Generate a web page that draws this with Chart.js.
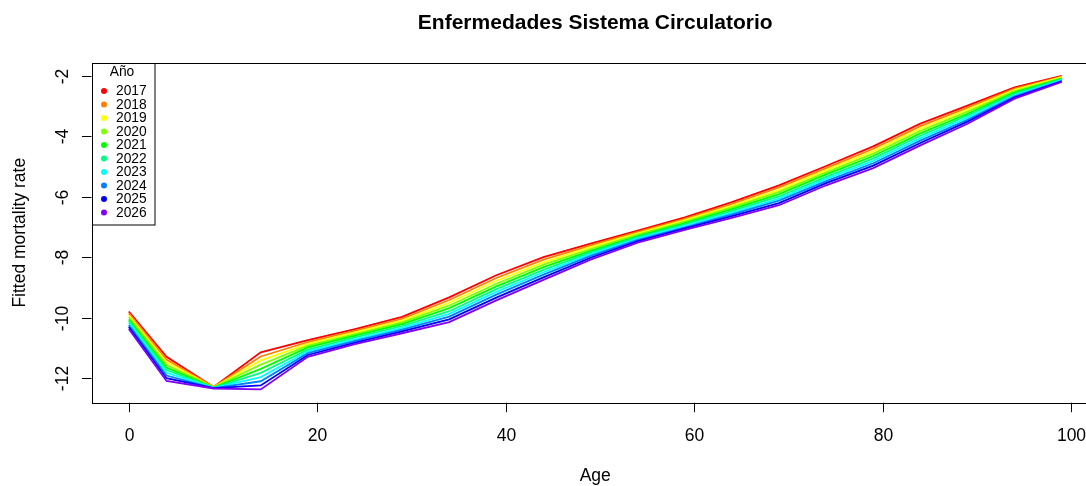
<!DOCTYPE html>
<html>
<head>
<meta charset="utf-8">
<title>Enfermedades Sistema Circulatorio</title>
<script src="https://cdn.jsdelivr.net/npm/chart.js@4"></script>
<style>
  html, body { margin: 0; padding: 0; background: #fff; overflow: hidden; }
  canvas { display: block; }
</style>
</head>
<body>
<canvas id="chart" width="1100" height="486"></canvas>
<script>
// Ages (x axis) and fitted log mortality rates, one array per year
const ages = [0, 4, 9, 14, 19, 24, 29, 34, 39, 44, 49, 54, 59, 64, 69, 74, 79, 84, 89, 94, 99];
const years = ['2017', '2018', '2019', '2020', '2021', '2022', '2023', '2024', '2025', '2026'];

const r2017 = [-9.80, -11.30, -12.30, -11.15, -10.75, -10.38, -9.98, -9.33, -8.60, -8.00, -7.55, -7.12, -6.68, -6.18, -5.62, -4.98, -4.33, -3.58, -2.98, -2.38, -2.00];
const r2018 = [-9.86, -11.39, -12.30, -11.29, -10.81, -10.44, -10.04, -9.42, -8.69, -8.08, -7.61, -7.16, -6.73, -6.24, -5.69, -5.05, -4.41, -3.66, -3.05, -2.42, -2.02];
const r2019 = [-9.93, -11.48, -12.31, -11.42, -10.87, -10.49, -10.10, -9.51, -8.78, -8.17, -7.67, -7.21, -6.77, -6.30, -5.77, -5.12, -4.49, -3.74, -3.11, -2.46, -2.04];
const r2020 = [-9.99, -11.57, -12.31, -11.56, -10.93, -10.55, -10.16, -9.60, -8.88, -8.25, -7.73, -7.25, -6.82, -6.35, -5.84, -5.19, -4.57, -3.82, -3.18, -2.50, -2.07];
const r2021 = [-10.06, -11.66, -12.32, -11.70, -10.99, -10.60, -10.22, -9.69, -8.97, -8.33, -7.79, -7.30, -6.87, -6.41, -5.91, -5.26, -4.65, -3.90, -3.25, -2.54, -2.09];
const r2022 = [-10.12, -11.74, -12.33, -11.83, -11.06, -10.66, -10.28, -9.79, -9.06, -8.42, -7.84, -7.34, -6.91, -6.47, -5.99, -5.34, -4.73, -3.98, -3.31, -2.59, -2.11];
const r2023 = [-10.18, -11.83, -12.33, -11.97, -11.12, -10.72, -10.34, -9.88, -9.15, -8.50, -7.90, -7.38, -6.96, -6.53, -6.06, -5.41, -4.81, -4.06, -3.38, -2.63, -2.13];
const r2024 = [-10.25, -11.92, -12.34, -12.11, -11.18, -10.77, -10.40, -9.97, -9.24, -8.58, -7.96, -7.43, -7.01, -6.58, -6.13, -5.48, -4.89, -4.14, -3.45, -2.67, -2.16];
const r2025 = [-10.31, -12.01, -12.34, -12.25, -11.24, -10.83, -10.46, -10.06, -9.34, -8.67, -8.02, -7.47, -7.05, -6.64, -6.21, -5.55, -4.97, -4.22, -3.51, -2.71, -2.18];
const r2026 = [-10.38, -12.10, -12.35, -12.38, -11.30, -10.88, -10.52, -10.15, -9.43, -8.75, -8.08, -7.52, -7.10, -6.70, -6.28, -5.62, -5.05, -4.30, -3.58, -2.75, -2.20];

const rates = [r2017, r2018, r2019, r2020, r2021, r2022, r2023, r2024, r2025, r2026];

// rainbow(10, end = 0.75) as in R
const colors = ['#FF0000', '#FF8000', '#FFFF00', '#80FF00', '#00FF00', '#00FF80', '#00FFFF', '#0080FF', '#0000FF', '#8000FF'];

const xTicks = [0, 20, 40, 60, 80, 100];
const yTicks = [-12, -10, -8, -6, -4, -2];

const FONT = '"Liberation Sans", Arial, sans-serif';

// Draws the R-style box, axes, labels, title and legend
const basePlot = {
  id: 'basePlot',
  afterDraw(chart) {
    const ctx = chart.ctx;
    const area = chart.chartArea;
    const xs = chart.scales.x;
    const ys = chart.scales.y;
    ctx.save();
    ctx.strokeStyle = '#000';
    ctx.fillStyle = '#000';
    ctx.lineWidth = 1;

    // box
    ctx.strokeRect(Math.round(area.left) + 0.5, Math.round(area.top) + 0.5,
      Math.round(area.right - area.left), Math.round(area.bottom - area.top));

    // x axis ticks + labels
    ctx.font = '17.5px ' + FONT;
    ctx.textAlign = 'center';
    ctx.textBaseline = 'middle';
    xTicks.forEach(t => {
      const px = Math.round(xs.getPixelForValue(t)) + 0.5;
      ctx.beginPath();
      ctx.moveTo(px, area.bottom);
      ctx.lineTo(px, area.bottom + 9.5);
      ctx.stroke();
      ctx.fillText(String(t), px, 436);
    });

    // y axis ticks + rotated labels
    yTicks.forEach(t => {
      const py = Math.round(ys.getPixelForValue(t)) + 0.5;
      ctx.beginPath();
      ctx.moveTo(area.left, py);
      ctx.lineTo(area.left - 9.5, py);
      ctx.stroke();
      ctx.save();
      ctx.translate(68, py);
      ctx.rotate(-Math.PI / 2);
      ctx.textBaseline = 'alphabetic';
      ctx.fillText(String(t), 0, 0);
      ctx.restore();
    });

    // axis titles
    ctx.textBaseline = 'alphabetic';
    ctx.fillText('Age', (area.left + area.right) / 2, 481);
    ctx.save();
    ctx.translate(25, (area.top + area.bottom) / 2);
    ctx.rotate(-Math.PI / 2);
    ctx.fillText('Fitted mortality rate', 0, 0);
    ctx.restore();

    // main title
    ctx.font = 'bold 21px ' + FONT;
    ctx.fillText('Enfermedades Sistema Circulatorio', (area.left + area.right) / 2, 29);

    // legend box
    const lx = Math.round(area.left) + 0.5, ly = Math.round(area.top) + 0.5;
    const lw = 62.5, lh = 161.5;
    ctx.fillStyle = '#fff';
    ctx.fillRect(lx, ly, lw, lh);
    ctx.strokeRect(lx, ly, lw, lh);
    ctx.fillStyle = '#000';
    ctx.font = '13.8px ' + FONT;
    ctx.textAlign = 'center';
    ctx.textBaseline = 'middle';
    ctx.fillText('Año', 122, 72.5);
    ctx.textAlign = 'left';
    years.forEach((y, i) => {
      const cy = 91 + i * 13.5;
      ctx.fillStyle = colors[i];
      ctx.beginPath();
      ctx.arc(104, cy, 3, 0, Math.PI * 2);
      ctx.fill();
      ctx.fillStyle = '#000';
      ctx.fillText(y, 116, cy + 0.5);
    });
    ctx.restore();
  }
};

const datasets = rates.map((vals, i) => ({
  label: years[i],
  data: ages.map((a, j) => ({ x: a, y: vals[j] })),
  borderColor: colors[i],
  backgroundColor: colors[i],
  borderWidth: 1.8,
  pointRadius: 0,
  tension: 0,
  fill: false,
  order: rates.length - i  // later years drawn on top, like matplot
}));

new Chart(document.getElementById('chart'), {
  type: 'line',
  data: { datasets },
  options: {
    responsive: false,
    animation: false,
    devicePixelRatio: 1,
    layout: { padding: { left: 91.5, right: 1, top: 62.7, bottom: 83.3 } },
    plugins: {
      legend: { display: false },
      tooltip: { enabled: false },
      title: { display: false }
    },
    scales: {
      x: { type: 'linear', min: -3.96, max: 102.96, display: false },
      y: { type: 'linear', min: -12.82, max: -1.56, display: false }
    }
  },
  plugins: [basePlot]
});
</script>
</body>
</html>
